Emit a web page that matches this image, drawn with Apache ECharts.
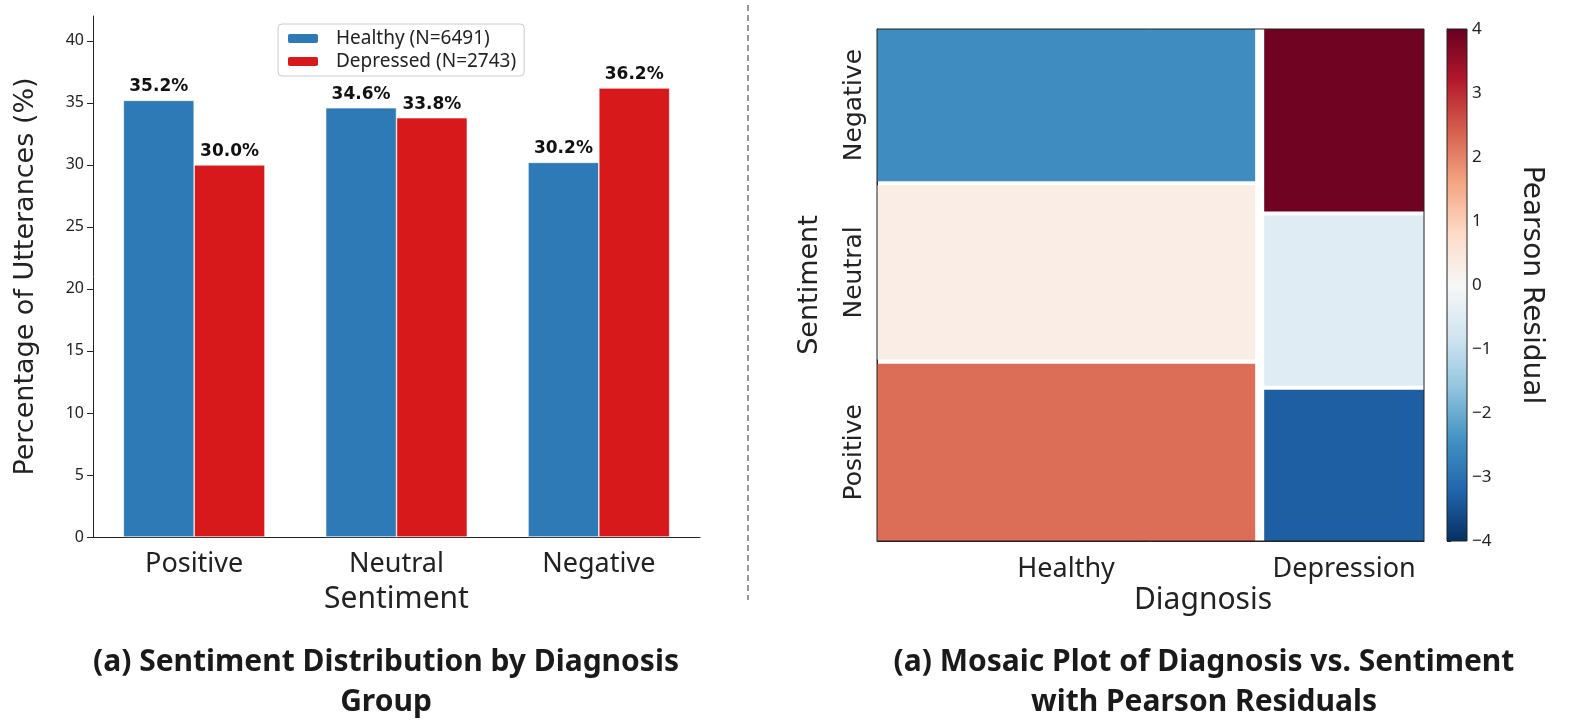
<!DOCTYPE html>
<html>
<head>
<meta charset="utf-8">
<script src="https://cdn.jsdelivr.net/npm/echarts@6/dist/echarts.min.js"></script>
<style>
html,body{margin:0;padding:0;background:#fff;}
#chart{width:1578px;height:728px;}
</style>
</head>
<body>
<div id="chart"></div>
<script>
// ---------------- data ----------------
const sentiments = ['Positive', 'Neutral', 'Negative'];
const groupNames = ['Healthy', 'Depressed'];
const groupN = [6491, 2743];
const healthyPct = [35.2, 34.6, 30.2];
const depressedPct = [30.0, 33.8, 36.2];
const diagnoses = ['Healthy', 'Depression'];
const healthyResidual = [2.25, 0.3, -2.5];     // Positive, Neutral, Negative
const depressedResidual = [-3.3, -0.5, 3.9];
const yTicks = [0, 5, 10, 15, 20, 25, 30, 35, 40];
const cbTicks = [-4, -3, -2, -1, 0, 1, 2, 3, 4];

// ---------------- layout constants ----------------
const GAP_X = 0.0165, GAP_Y = 0.008;
const BLUE = '#2e7ab6', RED = '#d7191c';
const RdBu_r = ['#053061','#2166ac','#4393c3','#92c5de','#d1e5f0','#f7f7f7','#fddbc7','#f4a582','#d6604d','#b2182b','#67001f'];

// mosaic tiles built from the data
const totalN = groupN.reduce((a, b) => a + b, 0);
const pcts = [healthyPct, depressedPct];
const resids = [healthyResidual, depressedResidual];
const tiles = [];
const xCenters = [];
const yCentersHealthy = [];
let xCur = 0;
for (let i = 0; i < diagnoses.length; i++) {
  const w = (1 - GAP_X * (diagnoses.length - 1)) * groupN[i] / totalN;
  let yCur = 0;
  for (let j = 0; j < sentiments.length; j++) {
    const h = (1 - GAP_Y * (sentiments.length - 1)) * pcts[i][j] / 100;
    tiles.push([xCur, xCur + w, yCur, yCur + h, resids[i][j]]);
    if (i === 0) yCentersHealthy.push(yCur + h / 2);
    yCur += h + GAP_Y;
  }
  xCenters.push(xCur + w / 2);
  xCur += w + GAP_X;
}

function nearestLabel(v, centers, labels) {
  let best = 0;
  for (let k = 1; k < centers.length; k++) if (Math.abs(centers[k] - v) < Math.abs(centers[best] - v)) best = k;
  return labels[best];
}

const chart = echarts.init(document.getElementById('chart'), null, {renderer: 'canvas'});
const option = {
  backgroundColor: '#fff',
  animation: false,
  legend: {
    data: [groupNames[0] + ' (N=' + groupN[0] + ')', groupNames[1] + ' (N=' + groupN[1] + ')'],
    orient: 'vertical',
    left: 278, top: 24,
    itemWidth: 32, itemHeight: 11, itemGap: 4,
    padding: [5, 8, 5, 8],
    backgroundColor: '#fff',
    borderColor: '#cccccc', borderWidth: 1, borderRadius: 4,
    textStyle: {fontFamily: 'Noto Sans', fontSize: 19, color: '#222', padding: [0, 0, 0, 12]}
  },
  visualMap: {
    show: false, type: 'continuous', min: -4, max: 4, dimension: 4, seriesIndex: 2,
    inRange: {color: RdBu_r}
  },
  grid: [
    {left: 93, right: 878, top: 16, bottom: 191},
    {left: 877, right: 154, top: 29, bottom: 187},
    {left: 1447, width: 20, top: 29, bottom: 187}
  ],
  xAxis: [
    {
      type: 'category', gridIndex: 0, data: sentiments,
      axisLine: {lineStyle: {color: '#222', width: 1}},
      axisTick: {alignWithLabel: true, length: 6, lineStyle: {color: '#222'}},
      axisLabel: {fontFamily: 'Noto Sans', fontSize: 27, color: '#222', margin: 14},
      name: 'Sentiment', nameLocation: 'middle', nameGap: 47,
      nameTextStyle: {fontFamily: 'Noto Sans', fontSize: 30, color: '#222'}
    },
    {
      type: 'value', gridIndex: 1, min: 0, max: 1,
      splitLine: {show: false},
      axisLine: {show: true, lineStyle: {color: '#222'}},
      axisTick: {show: false},
      axisLabel: {
        customValues: xCenters, fontFamily: 'Noto Sans', fontSize: 27, color: '#222', margin: 15,
        formatter: v => nearestLabel(v, xCenters, diagnoses)
      }
    },
    {
      type: 'value', gridIndex: 2, min: 0, max: 1, show: false
    }
  ],
  yAxis: [
    {
      type: 'value', gridIndex: 0, min: 0, max: 42,
      splitLine: {show: false},
      axisLine: {show: true, lineStyle: {color: '#222', width: 1}},
      axisTick: {show: true, customValues: yTicks, length: 6, lineStyle: {color: '#222'}},
      axisLabel: {customValues: yTicks, fontFamily: 'Noto Sans', fontSize: 16, color: '#222', margin: 9},
      name: 'Percentage of Utterances (%)', nameLocation: 'middle', nameGap: 54,
      nameTextStyle: {fontFamily: 'DejaVu Sans', fontSize: 27, color: '#222'}
    },
    {
      type: 'value', gridIndex: 1, min: 0, max: 1,
      splitLine: {show: false},
      axisLine: {show: true, lineStyle: {color: '#222'}},
      axisTick: {show: false},
      axisLabel: {
        customValues: yCentersHealthy, rotate: 90, fontFamily: 'DejaVu Sans', fontSize: 25, color: '#222', margin: 10,
        formatter: v => nearestLabel(v, yCentersHealthy, sentiments)
      },
      name: 'Sentiment', nameLocation: 'middle', nameGap: 54,
      nameTextStyle: {fontFamily: 'DejaVu Sans', fontSize: 27, color: '#222'}
    },
    {
      type: 'value', gridIndex: 2, min: -4, max: 4, interval: 1, position: 'right',
      splitLine: {show: false},
      axisLine: {show: true, lineStyle: {color: '#222'}},
      axisTick: {show: true, length: 4, lineStyle: {color: '#222'}},
      axisLabel: {fontFamily: 'Noto Sans', fontSize: 17, color: '#222', margin: 5,
        formatter: v => String(v).replace('-', '\u2212')},
      name: 'Pearson Residual', nameLocation: 'middle', nameGap: 50, nameRotate: -90,
      nameTextStyle: {fontFamily: 'DejaVu Sans', fontSize: 28, color: '#222'}
    }
  ],
  series: [
    {
      name: groupNames[0] + ' (N=' + groupN[0] + ')', type: 'bar', xAxisIndex: 0, yAxisIndex: 0,
      data: healthyPct, barWidth: '35%', barGap: '0%',
      itemStyle: {color: BLUE, borderColor: '#ffffff', borderWidth: 0.6},
      label: {show: true, position: 'top', distance: 5, fontFamily: 'DejaVu Sans', fontWeight: 'bold', fontSize: 17, color: '#111',
        formatter: p => p.value.toFixed(1) + '%'}
    },
    {
      name: groupNames[1] + ' (N=' + groupN[1] + ')', type: 'bar', xAxisIndex: 0, yAxisIndex: 0,
      data: depressedPct, barWidth: '35%', barGap: '0%',
      itemStyle: {color: RED, borderColor: '#ffffff', borderWidth: 0.6},
      label: {show: true, position: 'top', distance: 5, fontFamily: 'DejaVu Sans', fontWeight: 'bold', fontSize: 17, color: '#111',
        formatter: p => p.value.toFixed(1) + '%'}
    },
    {
      type: 'custom', xAxisIndex: 1, yAxisIndex: 1, data: tiles,
      encode: {x: [0, 1], y: [2, 3]},
      renderItem: function (params, api) {
        const p0 = api.coord([api.value(0), api.value(3)]);
        const p1 = api.coord([api.value(1), api.value(2)]);
        return {type: 'rect', shape: {x: p0[0], y: p0[1], width: p1[0] - p0[0], height: p1[1] - p0[1]},
          style: {fill: api.visual('color')}};
      }
    },
    {
      type: 'custom', xAxisIndex: 1, yAxisIndex: 1, data: [[0, 1, 0, 1]], z: 5, silent: true,
      encode: {x: [0, 1], y: [2, 3]},
      renderItem: function (params, api) {
        const p0 = api.coord([api.value(0), api.value(3)]);
        const p1 = api.coord([api.value(1), api.value(2)]);
        return {type: 'rect', shape: {x: p0[0], y: p0[1], width: p1[0] - p0[0], height: p1[1] - p0[1]},
          style: {fill: 'none', stroke: '#222', lineWidth: 1}};
      }
    },
    {
      type: 'custom', xAxisIndex: 2, yAxisIndex: 2, data: [[0, 1, -4, 4]], silent: true,
      encode: {x: [0, 1], y: [2, 3]},
      renderItem: function (params, api) {
        const p0 = api.coord([api.value(0), api.value(3)]);
        const p1 = api.coord([api.value(1), api.value(2)]);
        const stops = RdBu_r.slice().reverse().map((c, k) => ({offset: k / (RdBu_r.length - 1), color: c}));
        return {type: 'rect', shape: {x: p0[0], y: p0[1], width: p1[0] - p0[0], height: p1[1] - p0[1]},
          style: {fill: new echarts.graphic.LinearGradient(0, 0, 0, 1, stops), stroke: '#222', lineWidth: 1}};
      }
    }
  ],
  graphic: [
    {type: 'line', shape: {x1: 748, y1: 5, x2: 748, y2: 600}, style: {stroke: '#555', lineWidth: 1.2, lineDash: [6, 4]}},
    {type: 'text', x: 386, y: 682, style: {text: '(a) Sentiment Distribution by Diagnosis\nGroup', textAlign: 'center', textVerticalAlign: 'middle',
      fontFamily: 'Noto Sans', fontWeight: 'bold', fontSize: 30, lineHeight: 40, fill: '#1a1a1a'}},
    {type: 'text', x: 1204, y: 682, style: {text: '(a) Mosaic Plot of Diagnosis vs. Sentiment\nwith Pearson Residuals', textAlign: 'center', textVerticalAlign: 'middle',
      fontFamily: 'Noto Sans', fontWeight: 'bold', fontSize: 30, lineHeight: 40, fill: '#1a1a1a'}},
    {type: 'text', x: 1203, y: 600, style: {text: 'Diagnosis', textAlign: 'center', textVerticalAlign: 'middle',
      fontFamily: 'Noto Sans', fontSize: 30, fill: '#222'}}
  ]
};
chart.setOption(option);
</script>
</body>
</html>
